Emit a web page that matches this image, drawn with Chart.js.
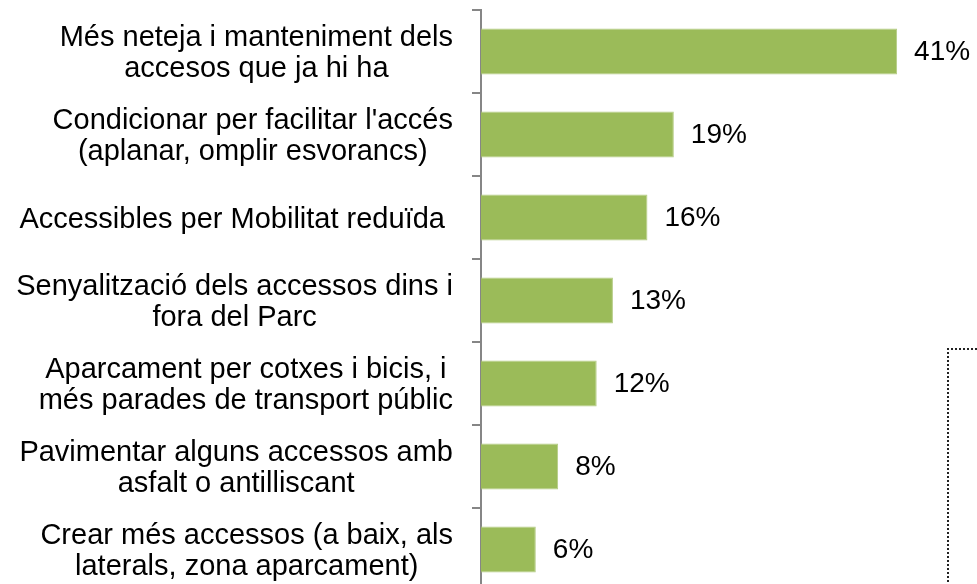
<!DOCTYPE html>
<html>
<head>
<meta charset="utf-8">
<script src="https://cdn.jsdelivr.net/npm/chart.js@4.4.0/dist/chart.umd.min.js"></script>
<style>
html, body { margin: 0; padding: 0; overflow: hidden; background: #fff; }
#wrap { position: relative; width: 977px; height: 600px; }
#dotted-box {
    position: absolute; left: 947px; top: 348px; width: 60px; height: 300px;
    border-top: 2px dotted #222; border-left: 2px dotted #222;
}
</style>
</head>
<body>
<div id="wrap">
    <canvas id="bar-chart" width="977" height="600"></canvas>
    <div id="dotted-box"></div>
</div>
<script>
var aCategories = [
    ["Més neteja i manteniment dels", "accesos que ja hi ha"],
    ["Condicionar per facilitar l'accés", "(aplanar, omplir esvorancs)"],
    ["Accessibles per Mobilitat reduïda "],
    ["Senyalització dels accessos dins i", "fora del Parc"],
    ["Aparcament per cotxes i bicis, i", "més parades de transport públic"],
    ["Pavimentar alguns accessos amb", "asfalt o antilliscant"],
    ["Crear més accessos (a baix, als", "laterals, zona aparcament)"]
];
var aValues = [41, 19, 16.4, 13, 11.4, 7.6, 5.4];
var aValueLabels = ["41%", "19%", "16%", "13%", "12%", "8%", "6%"];

var sCatFont = '29px "Liberation Sans", Arial, sans-serif';
var sValFont = '28px "Liberation Sans", Arial, sans-serif';
var iLineHeight = 31;

// category names: each block right aligned, lines centred inside the block
var categoryLabels = {
    id: 'categoryLabels',
    afterDraw: function(chart) {
        var ctx = chart.ctx;
        var yScale = chart.scales.y;
        var xRight = yScale.right - 28;
        ctx.save();
        ctx.font = sCatFont;
        ctx.fillStyle = '#000';
        ctx.textAlign = 'center';
        ctx.textBaseline = 'middle';
        aCategories.forEach(function(aLines, i) {
            var iWidth = Math.max.apply(null, aLines.map(function(s) { return ctx.measureText(s).width; }));
            var yTop = yScale.getPixelForTick(i) + 2 - (aLines.length - 1) * iLineHeight / 2;
            aLines.forEach(function(s, j) {
                ctx.fillText(s, xRight - iWidth / 2, yTop + j * iLineHeight);
            });
        });
        ctx.restore();
    }
};

// percentage next to each bar
var valueLabels = {
    id: 'valueLabels',
    afterDatasetsDraw: function(chart) {
        var ctx = chart.ctx;
        ctx.save();
        ctx.font = sValFont;
        ctx.fillStyle = '#000';
        ctx.textAlign = 'left';
        ctx.textBaseline = 'middle';
        chart.getDatasetMeta(0).data.forEach(function(bar, i) {
            ctx.fillText(aValueLabels[i], bar.x + 17, bar.y + 1);
        });
        ctx.restore();
    }
};

new Chart(document.getElementById('bar-chart'), {
    type: 'bar',
    data: {
        labels: aCategories,
        datasets: [{
            data: aValues,
            backgroundColor: '#9BBB59',
            borderColor: '#B5CC85',
            borderWidth: 1,
            categoryPercentage: 1,
            barPercentage: 0.555
        }]
    },
    plugins: [categoryLabels, valueLabels],
    options: {
        indexAxis: 'y',
        responsive: false,
        animation: false,
        layout: { padding: { top: 10, bottom: 9, right: 19, left: 0 } },
        plugins: {
            legend: { display: false },
            tooltip: { enabled: false }
        },
        scales: {
            x: {
                display: false,
                min: 0,
                max: 47
            },
            y: {
                afterFit: function(scale) { scale.width = 481; },
                grid: {
                    offset: true,
                    drawOnChartArea: false,
                    tickLength: 9,
                    color: '#868686',
                    lineWidth: 2
                },
                border: { color: '#868686', width: 2 },
                ticks: { display: false }
            }
        }
    }
});
</script>
</body>
</html>
